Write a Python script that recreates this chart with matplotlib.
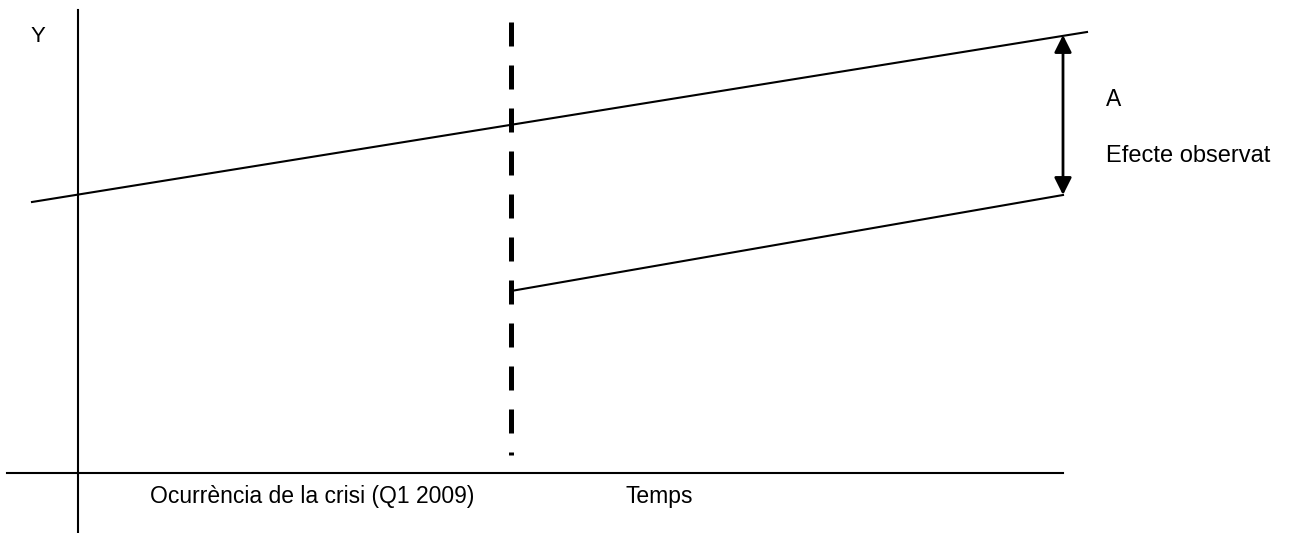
import matplotlib
matplotlib.use("Agg")
import matplotlib.pyplot as plt

# Diagram geometry (in pixel-like data units, y grows downward)
y_axis_x = [78, 78]; y_axis_y = [10, 533]
x_axis_x = [7, 1063]; x_axis_y = [473, 473]
trend_x = [32, 1087]; trend_y = [202, 32]
post_x = [511, 1063]; post_y = [291, 195]
crisis_x = [511, 511]; crisis_y = [22, 455]
effect_x = 1063; effect_top = 35; effect_bottom = 195

labels = {
    "Y": (31, 37, 16),
    "A": (1106, 100, 16.5),
    "Efecte observat": (1106, 156, 17),
    "Ocurrència de la crisi (Q1 2009)": (150, 496, 16.5),
    "Temps": (626, 496, 16.5),
}

fig = plt.figure(figsize=(12.92, 5.33), dpi=100)
ax = fig.add_axes([0, 0, 1, 1])
ax.set_xlim(0, 1292)
ax.set_ylim(533, 0)
ax.axis("off")

lw = 1.5
ax.plot(y_axis_x, y_axis_y, color="black", lw=lw)
ax.plot(x_axis_x, x_axis_y, color="black", lw=lw)
ax.plot(trend_x, trend_y, color="black", lw=lw)
ax.plot(post_x, post_y, color="black", lw=lw)
ax.plot(crisis_x, crisis_y, color="black", lw=3.6, dashes=(4.8, 3.8),
        solid_capstyle="butt", dash_capstyle="butt")

ax.annotate("", xy=(effect_x, effect_top), xytext=(effect_x, effect_bottom),
            arrowprops=dict(arrowstyle="<|-|>", color="black", lw=2.0,
                            mutation_scale=26, shrinkA=0, shrinkB=0))

for txt, (x, y, fs) in labels.items():
    ax.text(x, y, txt, fontsize=fs, family="Liberation Sans",
            ha="left", va="center", color="black")

fig.savefig("out.png", dpi=100)
